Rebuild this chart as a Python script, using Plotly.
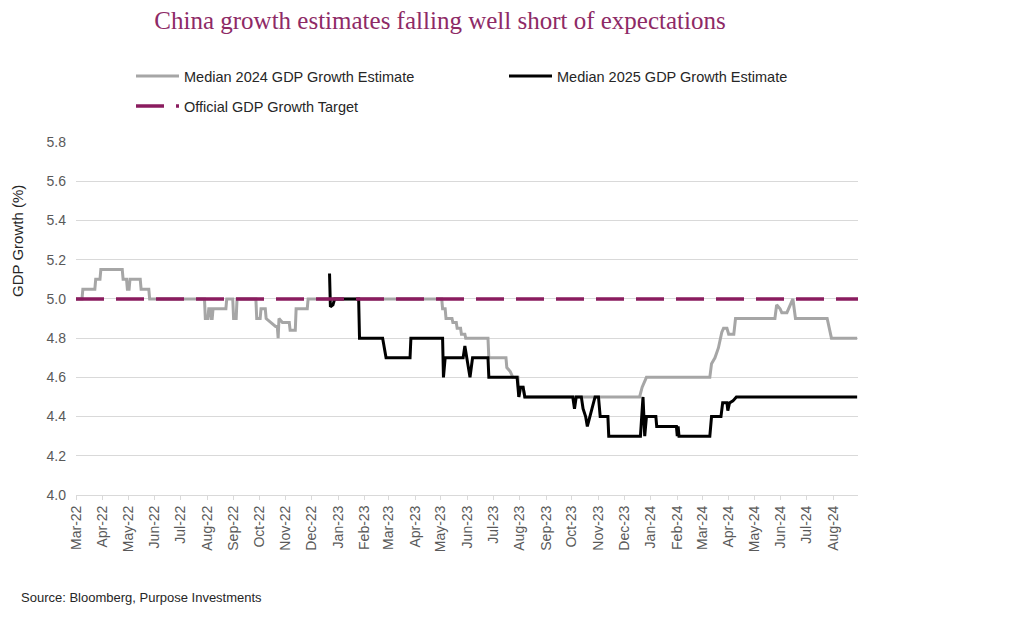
import plotly.graph_objects as go

# ---- Data ----
est2024_dates = [
    "2022-03-01", "2022-03-08", "2022-03-09", "2022-03-23", "2022-03-24", "2022-03-29", "2022-03-30",
    "2022-04-24", "2022-04-25", "2022-04-29", "2022-04-30", "2022-05-02", "2022-05-03", "2022-05-15",
    "2022-05-16", "2022-05-25", "2022-05-26", "2022-07-29", "2022-07-30", "2022-08-02", "2022-08-03",
    "2022-08-05", "2022-08-06", "2022-08-07", "2022-08-08", "2022-08-23", "2022-08-24", "2022-08-31",
    "2022-09-01", "2022-09-04", "2022-09-05", "2022-09-27", "2022-09-28", "2022-10-02", "2022-10-03",
    "2022-10-08", "2022-10-09", "2022-10-14", "2022-10-20", "2022-10-22", "2022-10-23", "2022-10-24",
    "2022-10-28", "2022-11-05", "2022-11-06", "2022-11-12", "2022-11-13", "2022-11-26", "2022-11-27",
    "2023-05-02", "2023-05-03", "2023-05-06", "2023-05-07", "2023-05-14", "2023-05-15", "2023-05-19",
    "2023-05-20", "2023-05-24", "2023-05-25", "2023-05-29", "2023-05-30", "2023-06-25", "2023-06-26",
    "2023-07-16", "2023-07-17", "2023-07-21", "2023-07-24", "2023-07-30", "2023-07-31", "2023-08-02",
    "2023-08-05", "2023-08-07", "2023-12-19", "2023-12-22", "2023-12-27", "2024-03-10", "2024-03-12",
    "2024-03-16", "2024-03-20", "2024-03-24", "2024-03-26", "2024-03-30", "2024-04-01", "2024-04-07",
    "2024-04-09", "2024-05-25", "2024-05-27", "2024-05-31", "2024-06-02", "2024-06-08", "2024-06-12",
    "2024-06-15", "2024-06-18", "2024-07-25", "2024-07-30", "2024-08-29",
]
est2024_values = [
    5.00, 5.00, 5.05, 5.05, 5.10, 5.10, 5.15,
    5.15, 5.10, 5.10, 5.05, 5.05, 5.10, 5.10,
    5.05, 5.05, 5.00, 5.00, 4.90, 4.90, 4.95,
    4.95, 4.90, 4.90, 4.95, 4.95, 5.00, 5.00,
    4.90, 4.90, 5.00, 5.00, 4.90, 4.90, 4.95,
    4.95, 4.90, 4.88, 4.86, 4.86, 4.80, 4.90,
    4.88, 4.88, 4.84, 4.84, 4.95, 4.95, 5.00,
    5.00, 4.95, 4.95, 4.90, 4.90, 4.88, 4.88,
    4.85, 4.85, 4.82, 4.82, 4.80, 4.80, 4.70,
    4.70, 4.65, 4.63, 4.60, 4.60, 4.50, 4.55,
    4.55, 4.50, 4.50, 4.55, 4.60, 4.60, 4.67,
    4.70, 4.75, 4.83, 4.85, 4.85, 4.82, 4.82,
    4.90, 4.90, 4.97, 4.95, 4.93, 4.93, 4.97,
    5.00, 4.90, 4.90, 4.80, 4.80,
]

est2025_dates = [
    "2022-12-22", "2022-12-23", "2022-12-26", "2022-12-28", "2023-01-25", "2023-01-26", "2023-02-22",
    "2023-02-26", "2023-03-26", "2023-03-27", "2023-05-03", "2023-05-04", "2023-05-06", "2023-05-27",
    "2023-05-29", "2023-05-31", "2023-06-04", "2023-06-07", "2023-06-25", "2023-06-26", "2023-07-29",
    "2023-07-31", "2023-08-02", "2023-08-05", "2023-08-07", "2023-10-02", "2023-10-04", "2023-10-06",
    "2023-10-12", "2023-10-14", "2023-10-17", "2023-10-19", "2023-10-24", "2023-10-28", "2023-11-01",
    "2023-11-03", "2023-11-12", "2023-11-13", "2023-12-20", "2023-12-23", "2023-12-25", "2023-12-27",
    "2024-01-07", "2024-01-08", "2024-01-31", "2024-02-01", "2024-02-02", "2024-02-03", "2024-03-10",
    "2024-03-12", "2024-03-23", "2024-03-25", "2024-03-30", "2024-03-31", "2024-04-02", "2024-04-06",
    "2024-04-10", "2024-08-29",
]
est2025_values = [
    5.13, 4.96, 4.97, 5.00, 5.00, 4.80, 4.80,
    4.70, 4.70, 4.80, 4.80, 4.60, 4.70, 4.70,
    4.76, 4.70, 4.60, 4.70, 4.70, 4.60, 4.60,
    4.50, 4.55, 4.55, 4.50, 4.50, 4.44, 4.50,
    4.50, 4.44, 4.40, 4.35, 4.44, 4.50, 4.50,
    4.40, 4.40, 4.30, 4.30, 4.50, 4.30, 4.40,
    4.40, 4.35, 4.35, 4.30, 4.35, 4.30, 4.30,
    4.40, 4.40, 4.47, 4.47, 4.43, 4.47, 4.48,
    4.50, 4.50,
]

target_dates = ["2022-03-01", "2024-08-30"]
target_values = [5.0, 5.0]

series_names = ["Median 2024 GDP Growth Estimate", "Median 2025 GDP Growth Estimate",
                "Official GDP Growth Target"]
y_ticks = [4.0, 4.2, 4.4, 4.6, 4.8, 5.0, 5.2, 5.4, 5.6, 5.8]

# ---- Styling ----
GRAY = "#A6A6A6"
BLACK = "#000000"
PURPLE = "#8A1C5F"
TITLE_PURPLE = "#8E2A66"
GRID = "#D9D9D9"
TICK_TXT = "#595959"
FONT = "Liberation Sans"

W, H = 1024, 627
L, R, T, B = 76, 166, 138, 132

fig = go.Figure()
fig.add_trace(go.Scatter(x=est2024_dates, y=est2024_values, mode="lines", name=series_names[0],
                         line=dict(color=GRAY, width=3), legend="legend"))
fig.add_trace(go.Scatter(x=est2025_dates, y=est2025_values, mode="lines", name=series_names[1],
                         line=dict(color=BLACK, width=3), legend="legend"))
fig.add_trace(go.Scatter(x=target_dates, y=target_values, mode="lines", name=series_names[2],
                         line=dict(color=PURPLE, width=3.5, dash="28px,12px"), legend="legend2"))

fig.update_layout(
    width=W, height=H,
    margin=dict(l=L, r=R, t=T, b=B),
    paper_bgcolor="white", plot_bgcolor="white",
    font=dict(family=FONT, size=13, color="#262626"),
    title=dict(text="China growth estimates falling well short of expectations",
               font=dict(family="Liberation Serif", size=25, color=TITLE_PURPLE),
               xref="container", yref="container", x=440 / W, xanchor="center",
               y=1 - 20 / H, yanchor="middle"),
    legend=dict(orientation="h", xref="container", yref="container",
                x=131 / W, xanchor="left", y=1 - 76 / H, yanchor="middle",
                entrywidth=315, entrywidthmode="pixels", itemwidth=43,
                font=dict(family=FONT, size=14.5, color="#262626"),
                bgcolor="rgba(0,0,0,0)", traceorder="normal"),
    legend2=dict(orientation="h", xref="container", yref="container",
                 x=131 / W, xanchor="left", y=1 - 106 / H, yanchor="middle", itemwidth=43,
                 font=dict(family=FONT, size=14.5, color="#262626"),
                 bgcolor="rgba(0,0,0,0)"),
    xaxis=dict(type="date", range=["2022-03-01", "2024-08-30"],
               tick0="2022-03-01", dtick="M1", tickformat="%b-%y", tickangle=-90,
               tickfont=dict(family=FONT, size=14, color=TICK_TXT),
               ticks="outside", ticklen=4, tickcolor=GRID,
               showgrid=False, showline=True, linecolor=GRID, linewidth=1,
               zeroline=False, fixedrange=True),
    yaxis=dict(range=[4.0, 5.8], tickvals=y_ticks, tickformat=".1f",
               tickfont=dict(family=FONT, size=14, color=TICK_TXT),
               showgrid=True, gridcolor=GRID, gridwidth=1,
               showline=False, zeroline=False, ticks="", ticklabelstandoff=9,
               fixedrange=True),
    showlegend=True,
)

fig.add_annotation(text="GDP Growth (%)", textangle=-90, xref="paper", yref="paper",
                   x=(18 - L) / (W - L - R), y=(H - B - 238) / (H - T - B),
                   xanchor="center", yanchor="middle", showarrow=False,
                   font=dict(family=FONT, size=15, color="#262626"))
fig.add_annotation(text="Source: Bloomberg, Purpose Investments", xref="paper", yref="paper",
                   x=(19 - L) / (W - L - R), y=(H - B - 599) / (H - T - B),
                   xanchor="left", yanchor="middle", showarrow=False,
                   font=dict(family=FONT, size=13, color="#262626"))

fig.write_html("out.html", config={"displayModeBar": False},
               post_script="document.body.style.margin='0';")
